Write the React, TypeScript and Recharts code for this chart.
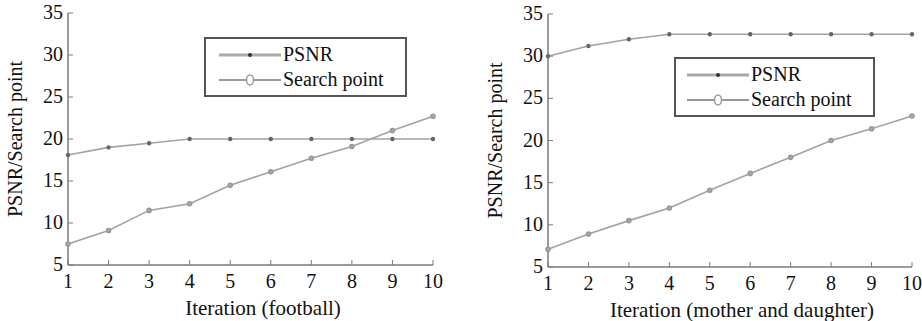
import { LineChart, Line, XAxis, YAxis, Legend } from 'recharts';

const iterations = [1, 2, 3, 4, 5, 6, 7, 8, 9, 10];
const footballPsnr = [18.1, 19, 19.5, 20, 20, 20, 20, 20, 20, 20];
const footballSearch = [7.5, 9.1, 11.5, 12.3, 14.5, 16.1, 17.7, 19.1, 21, 22.7];
const motherPsnr = [30, 31.2, 32, 32.6, 32.6, 32.6, 32.6, 32.6, 32.6, 32.6];
const motherSearch = [7.1, 8.9, 10.5, 12, 14.1, 16.1, 18, 20, 21.4, 22.9];
const yTicks = [5, 10, 15, 20, 25, 30, 35];
const seriesNames = ['PSNR', 'Search point'];

const FONT = "'Liberation Serif', 'Times New Roman', serif";
const AXIS = '#7a7a7a';
const LINE = '#a2a2a2';

const footballData = iterations.map((it, i) => ({ iter: it, psnr: footballPsnr[i], search: footballSearch[i] }));
const motherData = iterations.map((it, i) => ({ iter: it, psnr: motherPsnr[i], search: motherSearch[i] }));

const BottomTick = ({ x, y, payload }: any) => (
  <g>
    <line x1={x} x2={x} y1={y} y2={y - 5} stroke={AXIS} strokeWidth={1} />
    <text x={x} y={y + 23} textAnchor="middle" fontFamily={FONT} fontSize={20} fill="#111">
      {payload.value}
    </text>
  </g>
);

const TopTick = ({ x, y }: any) => (
  <line x1={x} x2={x} y1={y} y2={y + 5} stroke={AXIS} strokeWidth={1} />
);

const LeftTick = ({ x, y, payload }: any) => (
  <g>
    <line x1={x} x2={x + 5} y1={y} y2={y} stroke={AXIS} strokeWidth={1} />
    <text x={x - 5} y={y + 6} textAnchor="end" fontFamily={FONT} fontSize={20} fill="#111">
      {payload.value}
    </text>
  </g>
);

const RightTick = ({ x, y }: any) => (
  <line x1={x} x2={x - 5} y1={y} y2={y} stroke={AXIS} strokeWidth={1} />
);

function LegendBox({ padLeft }: { padLeft: number }) {
  return (
    <div
      style={{
        border: '2px solid #555',
        background: '#fff',
        padding: `3px 0 3px ${padLeft}px`,
        fontFamily: FONT,
        fontSize: 20,
        color: '#111',
        lineHeight: '25px',
        textAlign: 'left',
        boxSizing: 'border-box',
      }}
    >
      <div style={{ display: 'flex', alignItems: 'center' }}>
        <svg width={62} height={12}>
          <line x1={0} x2={62} y1={6} y2={6} stroke="#aaa" strokeWidth={3} />
          <circle cx={31} cy={6} r={2} fill="#333" />
        </svg>
        <span style={{ marginLeft: 2 }}>{seriesNames[0]}</span>
      </div>
      <div style={{ display: 'flex', alignItems: 'center' }}>
        <svg width={62} height={14}>
          <line x1={0} x2={62} y1={7} y2={7} stroke="#999" strokeWidth={2} />
          <ellipse cx={31} cy={7} rx={3.5} ry={5} fill="#fff" stroke="#999" strokeWidth={1.5} />
        </svg>
        <span style={{ marginLeft: 2 }}>{seriesNames[1]}</span>
      </div>
    </div>
  );
}

interface PanelProps {
  data: Array<{ iter: number; psnr: number; search: number }>;
  title: string;
  width: number;
  top: number;
  right: number;
  yWidth: number;
  xHeight: number;
  yLabelX: number;
  titleX: number;
  legendLeft: number;
  legendTop: number;
  legendWidth: number;
  legendPad: number;
}

function Panel(p: PanelProps) {
  return (
    <LineChart
      width={p.width}
      height={321}
      data={p.data}
      margin={{ top: p.top, right: p.right, bottom: 0, left: 0 }}
    >
      <XAxis
        dataKey="iter"
        type="number"
        domain={[1, 10]}
        ticks={iterations}
        interval={0}
        height={p.xHeight}
        tickSize={0}
        tickMargin={0}
        tick={<BottomTick />}
        axisLine={{ stroke: AXIS, strokeWidth: 1.5 }}
        label={{
          content: ({ viewBox }: any) => (
            <text
              x={p.titleX}
              y={viewBox.y + 50}
              textAnchor="middle"
              fontFamily={FONT}
              fontSize={21}
              fill="#111"
            >
              {p.title}
            </text>
          ),
        }}
      />
      <XAxis
        xAxisId="top"
        orientation="top"
        dataKey="iter"
        type="number"
        domain={[1, 10]}
        ticks={iterations}
        interval={0}
        height={0}
        tickSize={0}
        tickMargin={0}
        tick={<TopTick />}
        axisLine={{ stroke: AXIS, strokeWidth: 1.5 }}
      />
      <YAxis
        type="number"
        domain={[5, 35]}
        ticks={yTicks}
        interval={0}
        width={p.yWidth}
        tickSize={0}
        tickMargin={0}
        tick={<LeftTick />}
        axisLine={{ stroke: AXIS, strokeWidth: 1.5 }}
        label={{
          content: ({ viewBox }: any) => {
            const cy = viewBox.y + viewBox.height / 2;
            return (
              <text
                x={p.yLabelX}
                y={cy}
                textAnchor="middle"
                transform={`rotate(-90, ${p.yLabelX}, ${cy})`}
                dy="0.35em"
                fontFamily={FONT}
                fontSize={20}
                fill="#111"
              >
                PSNR/Search point
              </text>
            );
          },
        }}
      />
      <YAxis
        yAxisId="right"
        orientation="right"
        type="number"
        domain={[5, 35]}
        ticks={yTicks}
        interval={0}
        width={0}
        tickSize={0}
        tickMargin={0}
        tick={<RightTick />}
        axisLine={{ stroke: AXIS, strokeWidth: 1.5 }}
      />
      <Legend
        layout="horizontal"
        verticalAlign="middle"
        align="center"
        content={() => <LegendBox padLeft={p.legendPad} />}
        wrapperStyle={{ position: 'absolute', left: p.legendLeft, top: p.legendTop, width: p.legendWidth }}
      />
      <Line
        dataKey="psnr"
        name={seriesNames[0]}
        stroke={LINE}
        strokeWidth={1.6}
        dot={{ r: 1.4, fill: '#666', stroke: '#666' }}
        isAnimationActive={false}
      />
      <Line
        dataKey="search"
        name={seriesNames[1]}
        stroke={LINE}
        strokeWidth={1.6}
        dot={{ r: 2, fill: '#aaa', stroke: '#999' }}
        isAnimationActive={false}
      />
    </LineChart>
  );
}

export default function App() {
  return (
    <div style={{ position: 'absolute', left: 0, top: 0, width: 922, height: 321, display: 'flex', background: '#fff' }}>
      <Panel
        data={footballData}
        title="Iteration (football)"
        width={461}
        top={13}
        right={28}
        yWidth={68}
        xHeight={56}
        yLabelX={15}
        titleX={263}
        legendLeft={204}
        legendTop={37}
        legendWidth={203}
        legendPad={13}
      />
      <Panel
        data={motherData}
        title="Iteration (mother and daughter)"
        width={461}
        top={14}
        right={10}
        yWidth={87}
        xHeight={54}
        yLabelX={34}
        titleX={281}
        legendLeft={213}
        legendTop={57}
        legendWidth={201}
        legendPad={11}
      />
    </div>
  );
}
